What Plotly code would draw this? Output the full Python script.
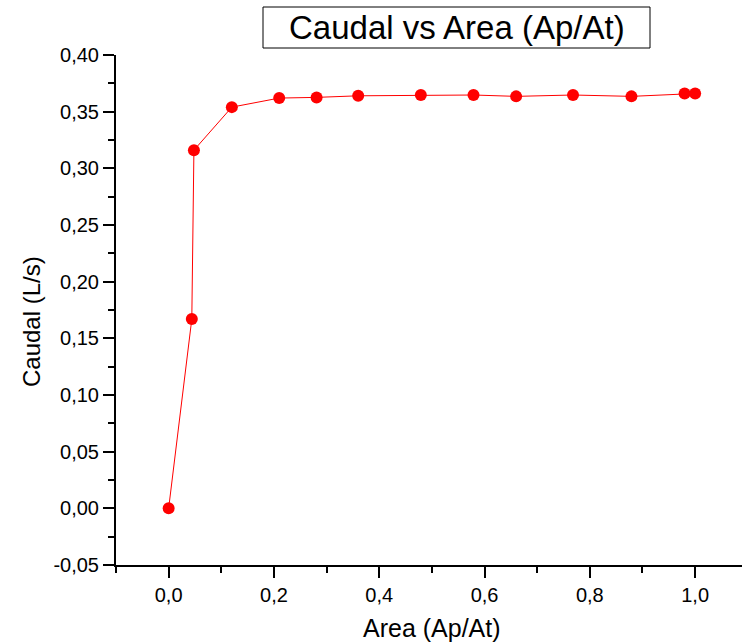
import plotly.graph_objects as go

# Data
area = [0.0, 0.044, 0.048, 0.12, 0.21, 0.281, 0.36, 0.479, 0.579, 0.66, 0.768, 0.879, 0.98, 1.0]
caudal = [0.0, 0.167, 0.316, 0.354, 0.362, 0.3626, 0.364, 0.3647, 0.3647, 0.3635, 0.3647, 0.3635, 0.366, 0.366]

y_tick_vals = [-0.05, 0.0, 0.05, 0.10, 0.15, 0.20, 0.25, 0.30, 0.35, 0.40]
y_tick_text = ["-0,05", "0,00", "0,05", "0,10", "0,15", "0,20", "0,25", "0,30", "0,35", "0,40"]
x_tick_vals = [0.0, 0.2, 0.4, 0.6, 0.8, 1.0]
x_tick_text = ["0,0", "0,2", "0,4", "0,6", "0,8", "1,0"]

title_text = "Caudal vs Area (Ap/At)"
x_title = "Area (Ap/At)"
y_title = "Caudal (L/s)"

FONT = "Liberation Sans, Arial, sans-serif"
TICK_FONT = dict(size=20, family=FONT, color="black")

fig = go.Figure()
fig.add_trace(go.Scatter(
    x=area, y=caudal, mode="lines+markers",
    line=dict(color="#ff0000", width=1),
    marker=dict(color="#ff0000", size=12),
    showlegend=False,
))

W, H = 742, 644
L, R, T, B = 116, 0, 55, 79
pw = W - L - R
ph = H - T - B

def px2paper_x(p):
    return (p - L) / pw

def px2paper_y(p):
    return (H - B - p) / ph

fig.update_layout(
    width=W, height=H,
    margin=dict(l=L, r=R, t=T, b=B, pad=0),
    paper_bgcolor="white", plot_bgcolor="white",
    font=dict(family=FONT, color="black", size=20),
    shapes=[dict(
        type="rect", xref="paper", yref="paper",
        x0=px2paper_x(263), x1=px2paper_x(650),
        y0=px2paper_y(48), y1=px2paper_y(7),
        line=dict(color="black", width=1), fillcolor="rgba(0,0,0,0)",
    )],
    annotations=[
        dict(text=title_text, xref="paper", yref="paper",
             x=px2paper_x(457), y=px2paper_y(27.5), xanchor="center", yanchor="middle",
             showarrow=False, font=dict(size=33, family=FONT, color="black")),
        dict(text=x_title, xref="paper", yref="paper",
             x=px2paper_x(432), y=px2paper_y(628), xanchor="center", yanchor="middle",
             showarrow=False, font=dict(size=25, family=FONT, color="black")),
        dict(text=y_title, xref="paper", yref="paper",
             x=px2paper_x(31), y=px2paper_y(322), xanchor="center", yanchor="middle",
             textangle=-90, showarrow=False, font=dict(size=24, family=FONT, color="black")),
    ],
)

fig.update_xaxes(
    range=[-0.1, 1.089], tickmode="array", tickvals=x_tick_vals, ticktext=x_tick_text,
    showgrid=False, zeroline=False, showline=True, linecolor="black", linewidth=2,
    ticks="outside", ticklen=11, tickwidth=2, tickcolor="black",
    tickfont=TICK_FONT,
    minor=dict(dtick=0.1, tick0=0, ticks="outside", ticklen=6, tickwidth=2, tickcolor="black", showgrid=False),
)
fig.update_yaxes(
    range=[-0.05, 0.40], tickmode="array", tickvals=y_tick_vals, ticktext=y_tick_text,
    showgrid=False, zeroline=False, showline=True, linecolor="black", linewidth=2,
    ticks="outside", ticklen=11, tickwidth=2, tickcolor="black",
    tickfont=TICK_FONT,
    minor=dict(dtick=0.025, tick0=0, ticks="outside", ticklen=6, tickwidth=2, tickcolor="black", showgrid=False),
)

fig.write_html("out.html")
